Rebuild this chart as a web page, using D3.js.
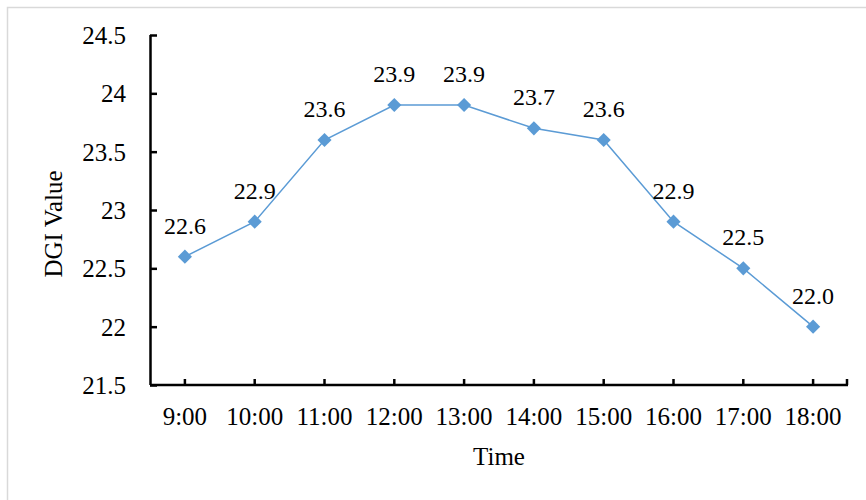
<!DOCTYPE html>
<html>
<head>
<meta charset="utf-8">
<script src="https://cdn.jsdelivr.net/npm/d3@7"></script>
<style>
  html, body { margin: 0; padding: 0; background: #fff; }
  svg text { font-family: "Liberation Serif", "Times New Roman", Times, serif; fill: #000; }
</style>
</head>
<body>
<svg id="chart" width="866" height="500"></svg>
<script>
const categories = ['9:00', '10:00', '11:00', '12:00', '13:00', '14:00', '15:00', '16:00', '17:00', '18:00'];
const dgiValues = [22.6, 22.9, 23.6, 23.9, 23.9, 23.7, 23.6, 22.9, 22.5, 22.0];
const yTicks = [21.5, 22, 22.5, 23, 23.5, 24, 24.5];
const yTickLabels = ['21.5', '22', '22.5', '23', '23.5', '24', '24.5'];

const margin = {left: 150, top: 35, right: 18, bottom: 115};
const width = 866, height = 500;
const svg = d3.select('#chart');

// outer chart frame
svg.append('rect')
  .attr('x', 7.5).attr('y', 7.5)
  .attr('width', width).attr('height', height)
  .attr('fill', 'none').attr('stroke', '#d9d9d9').attr('stroke-width', 1.5);

const xScale = d3.scaleBand().domain(categories).range([margin.left, width - margin.right]);
const yScale = d3.scaleLinear().domain([21.5, 24.5]).range([height - margin.bottom, margin.top]);
const cx = d => xScale(d) + xScale.bandwidth() / 2;

// y axis
const yAxis = d3.axisRight(yScale).tickValues(yTicks).tickSize(7).tickFormat('');
const yg = svg.append('g').attr('transform', `translate(${margin.left},0)`).call(yAxis);
yg.attr('font-family', null).attr('font-size', null);
yg.select('.domain').attr('d', `M0.5,${yScale(24.5)}V${yScale(21.5)}`);
yg.selectAll('line, path').attr('stroke', '#000').attr('stroke-width', 2.5);
yg.selectAll('.tick').append('text')
  .attr('x', -24).attr('dy', '0.34em')
  .attr('text-anchor', 'end')
  .style('font-size', '25px')
  .text((d, i) => yTickLabels[i]);

// x axis (ticks pointing up, at category centres)
const x0 = margin.left, x1 = width - margin.right, y0 = yScale(21.5);
const xg = svg.append('g');
xg.append('path').attr('d', `M${x0},${y0}H${x1}`).attr('stroke', '#000').attr('stroke-width', 2.5);
xg.selectAll('.xtick').data(categories.map(cx).concat([x1 - 1])).enter()
  .append('line').attr('class', 'xtick')
  .attr('x1', d => d).attr('x2', d => d)
  .attr('y1', y0).attr('y2', y0 - 6)
  .attr('stroke', '#000').attr('stroke-width', 2.5);
xg.selectAll('.xlabel').data(categories).enter()
  .append('text').attr('class', 'xlabel')
  .attr('x', d => cx(d)).attr('y', 425)
  .attr('text-anchor', 'middle')
  .style('font-size', '25px')
  .text(d => d);

// axis titles
svg.append('text')
  .attr('x', (x0 + x1) / 2).attr('y', 465)
  .attr('text-anchor', 'middle').style('font-size', '25px')
  .text('Time');
svg.append('text')
  .attr('transform', 'translate(62,224) rotate(-90)')
  .attr('text-anchor', 'middle').style('font-size', '25px')
  .text('DGI Value');

// series
const series = categories.map((c, i) => ({c, v: dgiValues[i]}));
const line = d3.line().x(d => cx(d.c)).y(d => yScale(d.v));
svg.append('path').datum(series)
  .attr('d', line)
  .attr('fill', 'none').attr('stroke', '#5b9bd5').attr('stroke-width', 1.5);

svg.selectAll('.marker').data(series).enter()
  .append('path').attr('class', 'marker')
  .attr('d', d3.symbol().type(d3.symbolSquare).size(100))
  .attr('transform', d => `translate(${cx(d.c)},${yScale(d.v)}) rotate(45)`)
  .attr('fill', '#5b9bd5');

const dataLabels = svg.append('g');
dataLabels.selectAll('.dlabel').data(series).enter()
  .append('text').attr('class', 'dlabel')
  .attr('x', d => cx(d.c)).attr('y', d => yScale(d.v) - 23)
  .attr('text-anchor', 'middle').style('font-size', '24px')
  .text(d => d.v.toFixed(1));
</script>
</body>
</html>
